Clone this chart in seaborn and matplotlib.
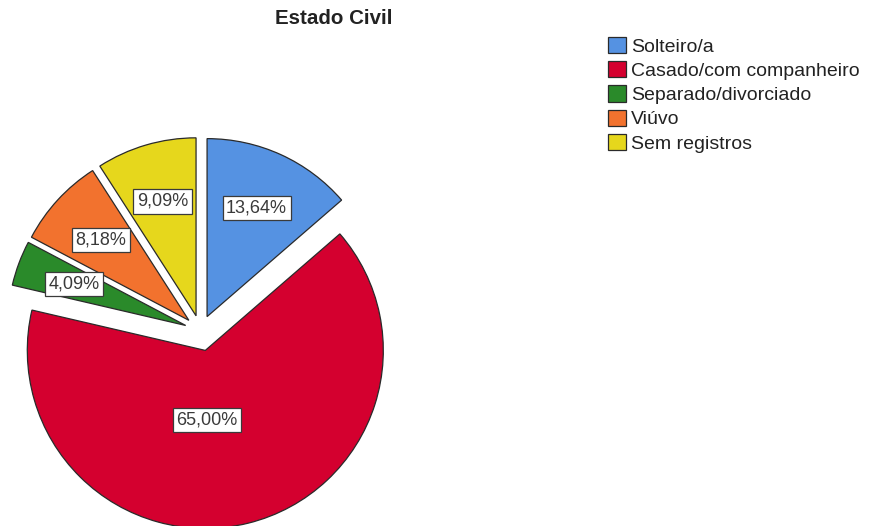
import matplotlib
matplotlib.use("Agg")
import matplotlib.pyplot as plt
import seaborn as sns

categories = ["Solteiro/a", "Casado/com companheiro", "Separado/divorciado", "Viúvo", "Sem registros"]
values = [13.64, 65.00, 4.09, 8.18, 9.09]
colors_hex = ["#5592E2", "#D4002F", "#2A8A2A", "#F2722E", "#E6D71C"]
explode_px = [15.8, 20.0, 15.8, 15.8, 15.8]
title = "Estado Civil"

sns.set_style("white")
plt.rcParams["font.family"] = ["Liberation Sans", "DejaVu Sans"]
palette = sns.color_palette(colors_hex)

W, H = 872, 526
fig = plt.figure(figsize=(W / 100, H / 100), dpi=100)
ax = fig.add_axes([0, 0, 1, 1])

R = 178
wedges, texts, autotexts = ax.pie(
    values,
    colors=palette,
    explode=explode_px,
    startangle=90,
    counterclock=False,
    radius=R,
    center=(200.5, 195),
    autopct=lambda p: f"{p:.2f}%".replace(".", ","),
    pctdistance=0.67,
    wedgeprops=dict(edgecolor="#2a2a2a", linewidth=0.9),
    textprops=dict(fontsize=13, color="#3a3a3a"),
    frame=True,
)
ax.set_xlim(0, W)
ax.set_ylim(0, H)
ax.set_aspect("equal")
ax.axis("off")

# the largest slice carries its label straight below its centre
big = values.index(max(values))
cx, cy = wedges[big].center
autotexts[big].set_position((cx + 0.01 * R, cy - 0.39 * R))

for t in autotexts:
    t.set_bbox(dict(boxstyle="square,pad=0.2", facecolor="white", edgecolor="#3a3a3a", linewidth=0.9))

fig.text(334 / W, 1 - 18 / H, title, ha="center", va="center",
         fontsize=14.8, fontweight="bold", color="#222222")

leg = fig.legend(
    wedges, categories,
    loc="upper left", bbox_to_anchor=(608 / W, 1 - 37 / H),
    frameon=False, fontsize=14,
    handlelength=0.9, handleheight=0.9, handletextpad=0.3,
    labelspacing=0.28, borderpad=0, borderaxespad=0,
)
for t in leg.get_texts():
    t.set_color("#222222")

fig.savefig("out.png", dpi=100)
